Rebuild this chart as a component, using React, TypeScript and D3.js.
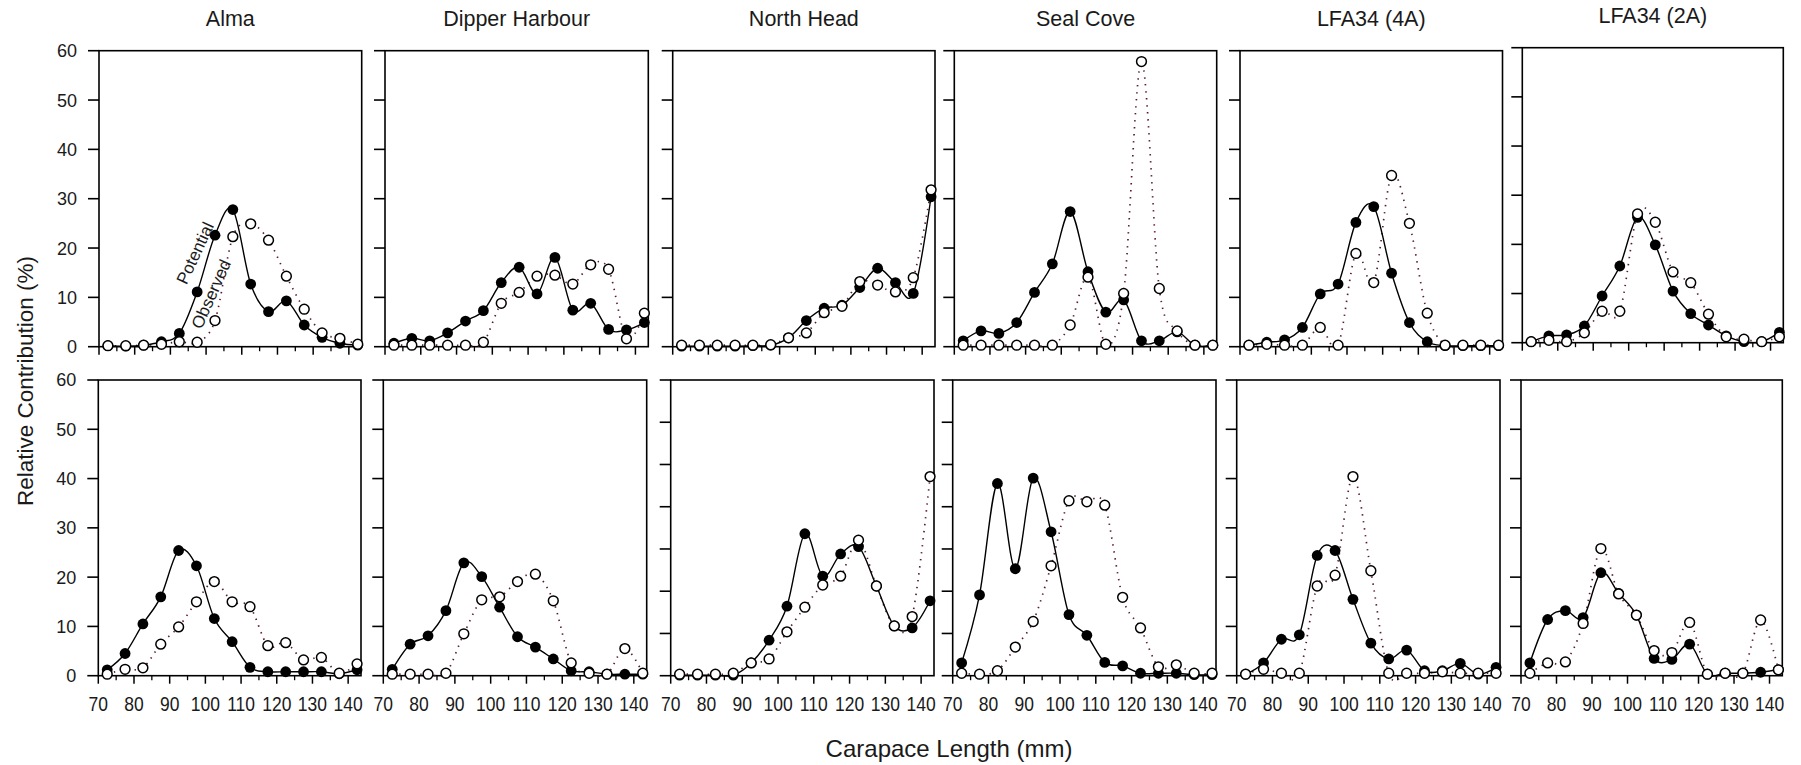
import React from "react";
import * as d3 from "d3";

// Sites (columns) and size classes (carapace length mid-points, mm)
const SITES = ["Alma", "Dipper Harbour", "North Head", "Seal Cove", "LFA34 (4A)", "LFA34 (2A)"];
const CARAPACE_MM = [72.5, 77.5, 82.5, 87.5, 92.5, 97.5, 102.5, 107.5, 112.5, 117.5, 122.5, 127.5, 132.5, 137.5, 142.5];
const X_TICKS = [70, 80, 90, 100, 110, 120, 130, 140];
const X_MINOR_TICKS = [75, 85, 95, 105, 115, 125, 135];
const Y_LABELS = [0, 10, 20, 30, 40, 50, 60];

// Upper row: potential (filled) and observed (open) contribution, %
const potentialTop = [
  [0.2, 0.1, 0.3, 1.0, 2.7, 11.1, 22.6, 27.8, 12.7, 7.1, 9.3, 4.4, 1.9, 0.7, 0.3],
  [0.7, 1.7, 1.2, 2.8, 5.2, 7.3, 13.0, 16.1, 10.7, 18.1, 7.4, 8.8, 3.5, 3.4, 4.9],
  [0.1, 0.1, 0.1, 0.1, 0.2, 0.3, 1.8, 5.3, 7.8, 8.4, 12.0, 15.9, 13.0, 10.8, 30.4],
  [1.2, 3.2, 2.7, 4.9, 11.0, 16.8, 27.4, 15.2, 7.0, 9.5, 1.2, 1.2, 3.0, 0.3, 0.3],
  [0.3, 0.9, 1.4, 3.9, 10.7, 12.7, 25.2, 28.4, 14.9, 4.9, 1.0, 0.2, 0.2, 0.2, 0.2],
  [0.2, 1.4, 1.6, 3.4, 9.5, 15.6, 25.5, 19.9, 10.5, 5.9, 3.6, 1.4, 0.2, 0.2, 2.1],
];
const observedTop = [
  [0.2, 0.2, 0.3, 0.5, 1.0, 0.9, 5.3, 22.3, 24.9, 21.6, 14.3, 7.6, 2.8, 1.7, 0.5],
  [0.3, 0.3, 0.3, 0.3, 0.3, 0.9, 8.8, 11.0, 14.3, 14.5, 12.7, 16.6, 15.7, 1.6, 6.8],
  [0.3, 0.3, 0.3, 0.3, 0.3, 0.4, 1.8, 2.8, 6.9, 8.2, 13.2, 12.5, 11.1, 14.0, 31.8],
  [0.3, 0.3, 0.3, 0.3, 0.3, 0.3, 4.4, 14.1, 0.5, 10.8, 57.8, 11.8, 3.2, 0.3, 0.3],
  [0.3, 0.5, 0.3, 0.3, 3.9, 0.3, 18.9, 13.0, 34.7, 25.0, 6.8, 0.3, 0.3, 0.3, 0.3],
  [0.2, 0.5, 0.2, 2.0, 6.4, 6.4, 26.2, 24.5, 14.4, 12.2, 5.8, 1.2, 0.7, 0.2, 1.2],
];

// Lower row
const potentialBottom = [
  [1.2, 4.5, 10.5, 16.0, 25.4, 22.3, 11.6, 6.9, 1.7, 0.8, 0.8, 0.8, 0.8, 0.4, 1.2],
  [1.3, 6.4, 8.1, 13.2, 22.9, 20.1, 13.9, 7.9, 5.8, 3.4, 1.0, 0.8, 0.3, 0.3, 0.3],
  [0.1, 0.1, 0.1, 0.1, 2.6, 7.2, 14.1, 28.8, 20.2, 24.7, 26.2, 18.2, 10.1, 9.7, 15.2],
  [2.6, 16.4, 39.0, 21.7, 40.1, 29.2, 12.4, 8.2, 2.7, 2.0, 0.5, 0.5, 0.5, 0.2, 0.2],
  [0.3, 2.6, 7.4, 8.3, 24.4, 25.4, 15.5, 6.6, 3.4, 5.2, 1.0, 1.0, 2.5, 0.3, 1.7],
  [2.6, 11.4, 13.2, 11.8, 20.9, 16.7, 12.3, 3.5, 3.3, 6.4, 0.3, 0.5, 0.5, 0.7, 1.2],
];
const observedBottom = [
  [0.3, 1.3, 1.6, 6.4, 9.9, 15.0, 19.1, 15.0, 14.0, 6.1, 6.7, 3.2, 3.7, 0.5, 2.4],
  [0.3, 0.3, 0.3, 0.5, 8.5, 15.4, 16.0, 19.1, 20.6, 15.2, 2.6, 0.5, 0.3, 5.5, 0.5],
  [0.3, 0.3, 0.3, 0.5, 2.6, 3.4, 8.9, 13.9, 18.4, 20.2, 27.5, 18.2, 10.1, 12.0, 40.4],
  [0.5, 0.3, 1.0, 5.8, 11.0, 22.3, 35.5, 35.3, 34.6, 15.9, 9.7, 1.8, 2.2, 0.5, 0.5],
  [0.3, 1.3, 0.5, 0.5, 18.2, 20.4, 40.4, 21.3, 0.5, 0.5, 0.5, 0.8, 0.5, 0.5, 0.5],
  [0.5, 2.6, 2.8, 10.6, 25.8, 16.6, 12.3, 5.1, 4.7, 10.8, 0.3, 0.5, 0.5, 11.3, 1.2],
];

// Panel frames (pixels)
const PANEL_LEFT = [
  [99, 385, 672.7, 954.3, 1240, 1522.3],
  [98.3, 383.3, 670.7, 952.7, 1236.7, 1521],
];
const PANEL_RIGHT = [
  [361.7, 648.3, 935, 1216.7, 1502.5, 1783.3],
  [361, 646.7, 934, 1216, 1500, 1782.3],
];
const PANEL_TOP = [
  [50.7, 50.7, 50.7, 50.7, 50.7, 47.7],
  [380, 380, 380, 380, 380, 380],
];
const PANEL_BOTTOM = [
  [346.7, 346.7, 346.7, 346.7, 346.7, 342.7],
  [675.7, 675.7, 675.7, 675.7, 675.7, 675.7],
];
// number of intervals between y-axis tick marks in each panel
const Y_TICK_DIVISIONS = [
  [6, 6, 6, 6, 6, 6],
  [6, 6, 7, 7, 6, 6],
];

const FONT = "'Liberation Sans', Arial, Helvetica, sans-serif";
const X_DOMAIN: [number, number] = [70, 143.6];
const Y_DOMAIN: [number, number] = [0, 60];

type PanelProps = {
  row: number;
  col: number;
  potential: number[];
  observed: number[];
};

function Panel({ row, col, potential, observed }: PanelProps) {
  const left = PANEL_LEFT[row][col];
  const right = PANEL_RIGHT[row][col];
  const top = PANEL_TOP[row][col];
  const bottom = PANEL_BOTTOM[row][col];
  const x = d3.scaleLinear().domain(X_DOMAIN).range([left, right]);
  const y = d3.scaleLinear().domain(Y_DOMAIN).range([bottom, top]);

  const line = d3
    .line<number>()
    .x((_, i) => x(CARAPACE_MM[i]))
    .y((d) => y(d))
    .curve(d3.curveCardinal.tension(0));

  const nDiv = Y_TICK_DIVISIONS[row][col];
  const yTicks = d3.range(nDiv + 1).map((i) => (Y_DOMAIN[1] * i) / nDiv);
  const showYLabels = col === 0;
  const showXLabels = row === 1;

  return (
    <g>
      {row === 0 && (
        <text
          x={(left + right) / 2}
          y={top - 24.5}
          textAnchor="middle"
          fontFamily={FONT}
          fontSize={21.5}
          fill="#1a1a1a"
        >
          {SITES[col]}
        </text>
      )}
      <rect
        x={left}
        y={top}
        width={right - left}
        height={bottom - top}
        fill="none"
        stroke="#000"
        strokeWidth={1.6}
      />
      {yTicks.map((t) => (
        <line key={`yt${t}`} x1={left - 11} x2={left} y1={y(t)} y2={y(t)} stroke="#000" strokeWidth={1.6} />
      ))}
      {showYLabels &&
        Y_LABELS.map((t) => (
          <text
            key={`yl${t}`}
            x={left - 22}
            y={y(t)}
            dy="0.36em"
            textAnchor="end"
            fontFamily={FONT}
            fontSize={18}
            fill="#1a1a1a"
          >
            {t}
          </text>
        ))}
      {X_TICKS.map((t) => (
        <line key={`xt${t}`} x1={x(t)} x2={x(t)} y1={bottom} y2={bottom + 8} stroke="#000" strokeWidth={1.5} />
      ))}
      {X_MINOR_TICKS.map((t) => (
        <line key={`xm${t}`} x1={x(t)} x2={x(t)} y1={bottom} y2={bottom + 4.5} stroke="#000" strokeWidth={1.3} />
      ))}
      {showXLabels &&
        X_TICKS.map((t) => (
          <text
            key={`xl${t}`}
            transform={`translate(${x(t)},${bottom + 35}) scale(1,1.15)`}
            textAnchor="middle"
            fontFamily={FONT}
            fontSize={17.5}
            fill="#1a1a1a"
          >
            {t}
          </text>
        ))}
      <path
        d={line(observed) || ""}
        fill="none"
        stroke="#5b1a2c"
        strokeWidth={1.7}
        strokeDasharray="1.4 5.6"
      />
      <path d={line(potential) || ""} fill="none" stroke="#000" strokeWidth={1.4} />
      {potential.map((v, i) => (
        <circle key={`p${i}`} cx={x(CARAPACE_MM[i])} cy={y(v)} r={5.4} fill="#000" />
      ))}
      {observed.map((v, i) => (
        <circle
          key={`o${i}`}
          cx={x(CARAPACE_MM[i])}
          cy={y(v)}
          r={4.9}
          fill="#fff"
          stroke="#000"
          strokeWidth={1.5}
        />
      ))}
    </g>
  );
}

export default function App() {
  return (
    <svg
      width={1801}
      height={765}
      viewBox="0 0 1801 765"
      style={{ position: "absolute", left: 0, top: 0, background: "#fff" }}
    >
      <rect x={0} y={0} width={1801} height={765} fill="#fff" />
      {SITES.map((s, c) => (
        <Panel key={`top-${s}`} row={0} col={c} potential={potentialTop[c]} observed={observedTop[c]} />
      ))}
      {SITES.map((s, c) => (
        <Panel key={`bot-${s}`} row={1} col={c} potential={potentialBottom[c]} observed={observedBottom[c]} />
      ))}
      {/* curve labels in the first panel */}
      <text
        transform="translate(195,253) rotate(-65)"
        textAnchor="middle"
        dy="0.35em"
        fontFamily={FONT}
        fontSize={17}
        fill="#1a1a1a"
      >
        Potential
      </text>
      <text
        transform="translate(211,294) rotate(-66)"
        textAnchor="middle"
        dy="0.35em"
        fontFamily={FONT}
        fontSize={17}
        fill="#1a1a1a"
      >
        Observed
      </text>
      <text
        transform="translate(33,381) rotate(-90)"
        textAnchor="middle"
        fontFamily={FONT}
        fontSize={22.5}
        fill="#1a1a1a"
      >
        Relative Contribution (%)
      </text>
      <text x={949} y={757} textAnchor="middle" fontFamily={FONT} fontSize={24} fill="#1a1a1a">
        Carapace Length (mm)
      </text>
    </svg>
  );
}
